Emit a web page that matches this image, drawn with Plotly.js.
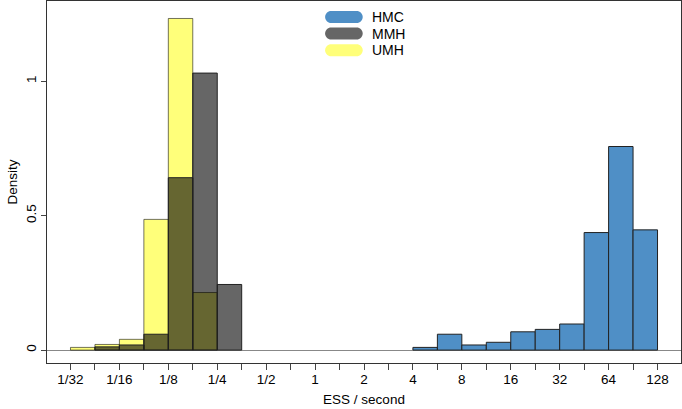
<!DOCTYPE html>
<html><head><meta charset="utf-8">
<script src="https://cdn.plot.ly/plotly-3.0.1.min.js"></script>
<style>html,body{margin:0;padding:0;background:#fff}#chart{width:682px;height:409px}</style>
</head><body><div id="chart"></div>
<script>
// bin centres in log2(ESS / second); bins are half a doubling wide
const binWidth = 0.5;
const hmcX = [2.25, 2.75, 3.25, 3.75, 4.25, 4.75, 5.25, 5.75, 6.25, 6.75];
const hmcDensity = [0.010, 0.059, 0.019, 0.029, 0.068, 0.077, 0.097, 0.437, 0.757, 0.447];
const mmhX = [-4.25, -3.75, -3.25, -2.75, -2.25, -1.75];
const mmhDensity = [0.012, 0.019, 0.059, 0.641, 1.030, 0.244];
const umhX = [-4.75, -4.25, -3.75, -3.25, -2.75, -2.25];
const umhDensity = [0.010, 0.021, 0.040, 0.486, 1.233, 0.214];
const tickLog2 = [-5, -4, -3, -2, -1, 0, 1, 2, 3, 4, 5, 6, 7];
const tickLabels = ["1/32", "1/16", "1/8", "1/4", "1/2", "1", "2", "4", "8", "16", "32", "64", "128"];
const seriesNames = ["HMC", "MMH", "UMH"];
const seriesColors = ["#4f8fc6", "rgba(0,0,0,0.6)", "rgba(255,255,0,0.52)"];

const font = "Liberation Sans, Arial, Helvetica, sans-serif";
const edge = {color: "#222", width: 1};

const traces = [
  {type: "bar", x: hmcX, y: hmcDensity, width: binWidth, name: seriesNames[0],
   marker: {color: seriesColors[0], line: edge}, showlegend: false},
  {type: "bar", x: umhX, y: umhDensity, width: binWidth, name: seriesNames[2],
   marker: {color: seriesColors[2], line: {color: "rgba(0,0,0,0.55)", width: 1}}, showlegend: false},
  {type: "bar", x: mmhX, y: mmhDensity, width: binWidth, name: seriesNames[1],
   marker: {color: seriesColors[1], line: edge}, showlegend: false}
];

// all half-doubling ticks, labelled only at whole doublings
const tickvals = [], ticktext = [];
for (let i = 0; i < tickLog2.length; i++) {
  tickvals.push(tickLog2[i]); ticktext.push(tickLabels[i]);
  if (i < tickLog2.length - 1) { tickvals.push(tickLog2[i] + 0.5); ticktext.push(""); }
}

const pill = "M -12.8,-6 L 12.8,-6 C 16.1,-6 18.8,-3.3 18.8,0 C 18.8,3.3 16.1,6 12.8,6 L -12.8,6 C -16.1,6 -18.8,3.3 -18.8,0 C -18.8,-3.3 -16.1,-6 -12.8,-6 Z";
const legendX = 0.4683, legendTextX = 0.5095;
const legendY = [0.956, 0.910, 0.864];
const shapes = [], annotations = [];
for (let i = 0; i < seriesNames.length; i++) {
  shapes.push({type: "path", xref: "paper", yref: "paper", xsizemode: "pixel", ysizemode: "pixel",
    xanchor: legendX, yanchor: legendY[i], path: pill,
    fillcolor: seriesColors[i], line: {width: 0}});
  annotations.push({xref: "paper", yref: "paper", x: legendTextX, y: legendY[i],
    xanchor: "left", yanchor: "middle", text: seriesNames[i], showarrow: false,
    font: {family: font, size: 14, color: "#000"}});
}

const layout = {
  width: 682, height: 409,
  margin: {l: 47, r: 1, t: 1, b: 46},
  paper_bgcolor: "#fff", plot_bgcolor: "#fff",
  barmode: "overlay", bargap: 0,
  font: {family: font, size: 13.5, color: "#000"},
  showlegend: false,
  xaxis: {range: [-5.48, 7.48], tickmode: "array", tickvals: tickvals, ticktext: ticktext,
    ticks: "outside", ticklen: 6, tickcolor: "#444", ticklabelstandoff: -2,
    showgrid: false, zeroline: false,
    showline: true, mirror: true, linecolor: "#333", linewidth: 1,
    title: {text: "ESS / second", font: {family: font, size: 13.5}, standoff: 8},
    fixedrange: true},
  yaxis: {range: [-0.048, 1.298], tickvals: [0, 0.5, 1], ticktext: ["0", "0.5", "1"],
    ticks: "outside", ticklen: 5, tickcolor: "#444", tickangle: -90, showgrid: false,
    zeroline: true, zerolinecolor: "#888", zerolinewidth: 1,
    showline: true, mirror: true, linecolor: "#333", linewidth: 1,
    title: {text: "Density", font: {family: font, size: 13.5}, standoff: 2},
    fixedrange: true},
  shapes: shapes, annotations: annotations
};

Plotly.newPlot("chart", traces, layout, {displayModeBar: false, staticPlot: true});
</script></body></html>
